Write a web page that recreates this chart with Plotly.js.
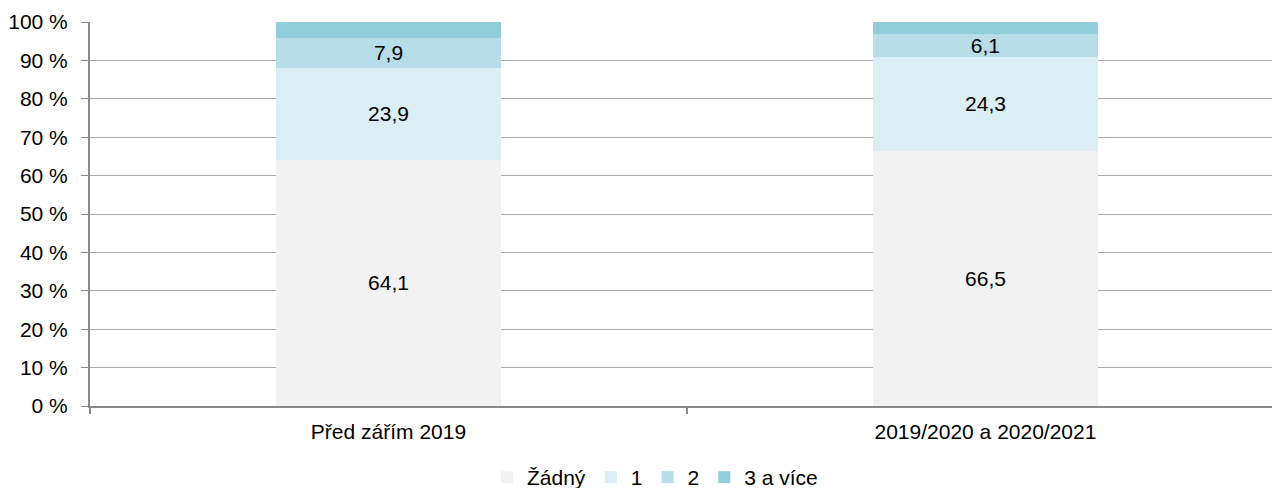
<!DOCTYPE html>
<html>
<head>
<meta charset="utf-8">
<script src="https://cdn.plot.ly/plotly-3.0.1.min.js"></script>
<style>html,body{margin:0;padding:0;background:#fff;}#chart{width:1272px;height:488px;}</style>
</head>
<body>
<div id="chart"></div>
<script>
const categories = ["Před zářím 2019", "2019/2020 a 2020/2021"];
const seriesNames = ["Žádný", "1", "2", "3 a více"];
const zadny = [64.1, 66.5];
const jeden = [23.9, 24.3];
const dva = [7.9, 6.1];
const triAVice = [4.1, 3.1];
const showLabels = [true, true, true, false];
const colors = ["#f2f2f2", "#daeef3", "#b7dde8", "#92cddc"];
const yTicks = [0,10,20,30,40,50,60,70,80,90,100];

const FS = 21;
const allSeries = [zadny, jeden, dva, triAVice];
const traces = allSeries.map((vals, i) => ({
  type: "bar",
  name: seriesNames[i],
  x: categories,
  y: vals,
  width: 0.377,
  marker: {color: colors[i], line: {width: 0}},
  text: showLabels[i] ? vals.map(v => v.toFixed(1).replace(".", ",")) : vals.map(() => ""),
  textposition: "inside",
  insidetextanchor: "middle",
  constraintext: "none",
  textangle: 0,
  textfont: {family: "Liberation Sans, Arial, sans-serif", size: FS, color: "#000"},
  hoverinfo: "none",
  cliponaxis: false
}));

const layout = {
  width: 1272, height: 488,
  barmode: "stack",
  margin: {l: 90, r: 0, t: 22, b: 82},
  paper_bgcolor: "#fff", plot_bgcolor: "#fff",
  font: {family: "Liberation Sans, Arial, sans-serif", size: FS, color: "#000"},
  showlegend: true,
  legend: {orientation: "h", x: 0.478, xanchor: "center", yref: "container", y: 0, yanchor: "bottom",
           font: {size: FS}, itemwidth: 30, traceorder: "normal", itemclick: false,
           tracegroupgap: 0},
  xaxis: {
    type: "category",
    range: [-0.5, 1.48],
    showgrid: false,
    showline: true, linecolor: "#898989", linewidth: 2,
    ticks: "outside", tickson: "boundaries", ticklen: 6, tickcolor: "#898989", tickwidth: 2,
    ticklabelstandoff: 6,
    tickfont: {size: FS}
  },
  yaxis: {
    range: [0, 100],
    tickvals: yTicks,
    ticktext: yTicks.map(v => v + " %"),
    showgrid: true, gridcolor: "#ababab", gridwidth: 1,
    showline: true, linecolor: "#898989", linewidth: 2,
    ticks: "outside", ticklen: 7, tickcolor: "#898989", tickwidth: 1,
    ticklabelstandoff: 9,
    tickfont: {size: FS},
    zeroline: false
  }
};
Plotly.newPlot("chart", traces, layout, {displayModeBar: false, staticPlot: true}).then(() => {
  const lg = document.querySelector("#chart .legend");
  if (lg) {
    const t = lg.getAttribute("transform") || "";
    const m = t.match(/translate\(\s*([-\d.]+)[ ,]+([-\d.]+)\s*\)/);
    if (m) lg.setAttribute("transform", "translate(" + m[1] + "," + (parseFloat(m[2]) + 10) + ")");
  }
});
</script>
</body>
</html>
